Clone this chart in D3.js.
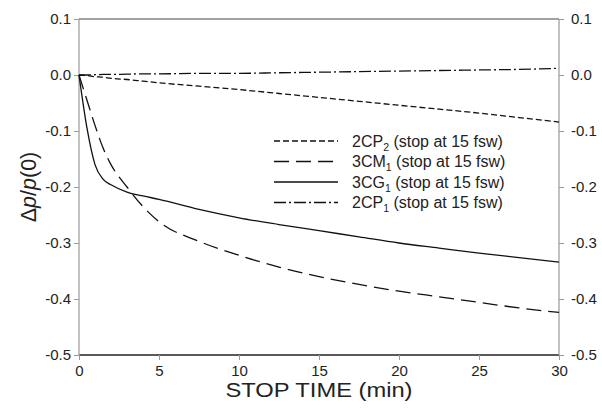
<!DOCTYPE html>
<html>
<head>
<meta charset="utf-8">
<script src="https://cdn.jsdelivr.net/npm/d3@7.9.0/dist/d3.min.js"></script>
<style>
  body { margin: 0; background: #fff; }
  text { font-family: "Liberation Sans", Arial, sans-serif; fill: #222; }
</style>
</head>
<body>
<svg id="chart" width="602" height="409"></svg>
<script>
// data
const stopTime = [0, 0.5, 1, 1.5, 2, 3, 4, 5, 7.5, 10, 12.5, 15, 17.5, 20, 22.5, 25, 27.5, 30];
const cp2 = [0, -0.001, -0.003, -0.004, -0.006, -0.008, -0.011, -0.014, -0.020, -0.026, -0.033, -0.040, -0.047, -0.054, -0.061, -0.068, -0.076, -0.084];
const cm1 = [0, -0.045, -0.090, -0.130, -0.160, -0.200, -0.235, -0.262, -0.297, -0.322, -0.343, -0.360, -0.374, -0.386, -0.396, -0.406, -0.416, -0.424];
const cg1 = [0, -0.095, -0.160, -0.186, -0.196, -0.209, -0.216, -0.222, -0.240, -0.255, -0.267, -0.278, -0.289, -0.300, -0.309, -0.318, -0.326, -0.334];
const cp1 = [0, 0, 0.0005, 0.001, 0.001, 0.0015, 0.002, 0.002, 0.003, 0.003, 0.004, 0.005, 0.006, 0.007, 0.008, 0.009, 0.010, 0.012];

const xTicks = [0, 5, 10, 15, 20, 25, 30];
const yTicks = [0.1, 0.0, -0.1, -0.2, -0.3, -0.4, -0.5];

const series = [
  { name: "2CP", sub: "2", values: cp2, dash: "6,3" },
  { name: "3CM", sub: "1", values: cm1, dash: "15,7" },
  { name: "3CG", sub: "1", values: cg1, dash: null },
  { name: "2CP", sub: "1", values: cp1, dash: "12,3,2,3" }
];

const svg = d3.select("#chart");
const pLeft = 79, pRight = 559, pTop = 19, pBottom = 355;

const x = d3.scaleLinear().domain([0, 30]).range([pLeft, pRight]);
const y = d3.scaleLinear().domain([-0.5, 0.1]).range([pBottom, pTop]);
const fmtY = d => d.toFixed(1);

// frame
svg.append("line").attr("x1", pLeft).attr("x2", pRight).attr("y1", pTop).attr("y2", pTop)
  .attr("stroke", "#444").attr("stroke-width", 1.2);
svg.append("line").attr("x1", pLeft).attr("x2", pRight).attr("y1", pBottom).attr("y2", pBottom)
  .attr("stroke", "#222").attr("stroke-width", 1.4);
svg.append("line").attr("x1", pLeft).attr("x2", pLeft).attr("y1", pTop).attr("y2", pBottom)
  .attr("stroke", "#999").attr("stroke-width", 1.2);
svg.append("line").attr("x1", pRight).attr("x2", pRight).attr("y1", pTop).attr("y2", pBottom)
  .attr("stroke", "#999").attr("stroke-width", 1.2);

// x axis
const xAxis = svg.append("g").attr("transform", `translate(0,${pBottom})`)
  .call(d3.axisBottom(x).tickValues(xTicks).tickSize(5).tickSizeOuter(0).tickFormat(d3.format("d")));
xAxis.select(".domain").remove();
xAxis.selectAll("line").attr("stroke", "#999");
xAxis.selectAll("text").attr("font-size", 15).attr("y", 10).attr("dy", "0.71em").style("fill", "#222");

// left y axis
const yl = svg.append("g").attr("transform", `translate(${pLeft},0)`)
  .call(d3.axisLeft(y).tickValues(yTicks).tickSize(5).tickFormat(fmtY));
yl.select(".domain").remove();
yl.selectAll("line").attr("stroke", "#999");
yl.selectAll("text").attr("font-size", 15).attr("x", -8).style("fill", "#222");

// right y axis
const yr = svg.append("g").attr("transform", `translate(${pRight},0)`)
  .call(d3.axisRight(y).tickValues(yTicks).tickSize(5).tickFormat(fmtY));
yr.select(".domain").remove();
yr.selectAll("line").attr("stroke", "#999");
yr.selectAll("text").attr("font-size", 15).attr("x", 12).style("fill", "#222");

// curves
const line = d3.line().x((d, i) => x(stopTime[i])).y(d => y(d)).curve(d3.curveMonotoneX);
series.forEach(s => {
  svg.append("path")
    .attr("d", line(s.values))
    .attr("fill", "none")
    .attr("stroke", "#111")
    .attr("stroke-width", 1.3)
    .attr("stroke-dasharray", s.dash);
});

// legend
const lg = svg.append("g");
series.forEach((s, i) => {
  const ly = 141 + i * 20.5;
  lg.append("line").attr("x1", 274).attr("x2", 338).attr("y1", ly).attr("y2", ly)
    .attr("stroke", "#111").attr("stroke-width", 1.3).attr("stroke-dasharray", s.dash);
  const t = lg.append("text").attr("x", 352).attr("y", ly + 5.5).attr("font-size", 16);
  t.append("tspan").text(s.name);
  t.append("tspan").attr("font-size", 10.5).attr("dy", 4).text(s.sub);
  t.append("tspan").attr("dy", -4).text(" (stop at 15 fsw)");
});

// axis titles
svg.append("text").attr("x", x(15)).attr("y", 397).attr("text-anchor", "middle")
  .attr("font-size", 20.5).attr("textLength", 187).attr("lengthAdjust", "spacingAndGlyphs")
  .text("STOP TIME (min)");

const yt = svg.append("text").attr("transform", `translate(36,${(pTop + pBottom) / 2}) rotate(-90)`)
  .attr("text-anchor", "middle").attr("font-size", 21.5);
yt.append("tspan").text("Δ");
yt.append("tspan").attr("font-style", "italic").text("p");
yt.append("tspan").text("/");
yt.append("tspan").attr("font-style", "italic").text("p");
yt.append("tspan").text("(0)");
</script>
</body>
</html>
